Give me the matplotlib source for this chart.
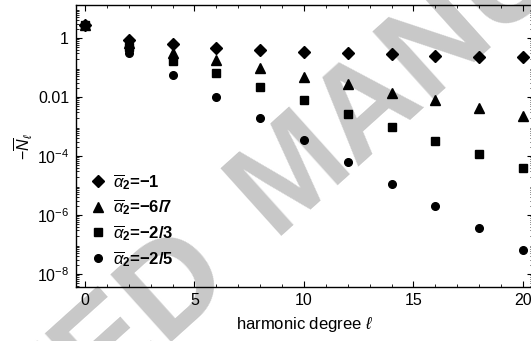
import matplotlib
matplotlib.use("Agg")
import matplotlib.pyplot as plt
from matplotlib.ticker import FixedLocator, LogLocator, NullFormatter, MultipleLocator
import numpy as np

plt.rcParams['font.family'] = ['Liberation Sans', 'DejaVu Sans']
plt.rcParams['mathtext.fontset'] = 'custom'
plt.rcParams['mathtext.rm'] = 'Liberation Sans'
plt.rcParams['mathtext.it'] = 'Liberation Sans:italic'
plt.rcParams['mathtext.bf'] = 'Liberation Sans:bold'

# Data
ell = [0, 2, 4, 6, 8, 10, 12, 14, 16, 18, 20]
n_a1 = [2.75, 0.85, 0.62, 0.47, 0.39, 0.34, 0.30, 0.28, 0.25, 0.22, 0.22]
n_a67 = [2.75, 0.68, 0.32, 0.18, 0.094, 0.049, 0.027, 0.014, 0.0079, 0.0042, 0.0023]
n_a23 = [2.75, 0.51, 0.17, 0.063, 0.022, 0.0079, 0.0027, 9.8e-4, 3.2e-4, 1.2e-4, 4.0e-5]
n_a25 = [2.75, 0.30, 0.056, 0.010, 2.0e-3, 3.5e-4, 6.4e-5, 1.1e-5, 2.0e-6, 3.7e-7, 6.5e-8]
labels = [r'$\overline{\alpha}_\mathbf{2}$=−1', r'$\overline{\alpha}_\mathbf{2}$=−6/7',
          r'$\overline{\alpha}_\mathbf{2}$=−2/3', r'$\overline{\alpha}_\mathbf{2}$=−2/5']
yticks = [1e-8, 1e-6, 1e-4, 1e-2, 1]
yticklabels = [r'$10^{-8}$', r'$10^{-6}$', r'$10^{-4}$', '0.01', '1']

fig = plt.figure(figsize=(5.31, 3.41), dpi=100)
ax = fig.add_axes([76 / 531, 1 - 287 / 341, 457 / 531, 282 / 341])
ax.patch.set_alpha(0)

# watermark behind everything
wm = dict(rotation=42, rotation_mode='anchor', va='baseline', fontsize=95,
          fontweight='bold', color='#c8c8c8', zorder=-5)
fig.text(272 / 531, 1 - 236 / 341, 'MANUSCRIPT', ha='left', **wm)
fig.text(236 / 531, 1 - 281 / 341, 'ACCEPTED', ha='right', **wm)

ax.plot(ell, n_a1, ls='none', marker='D', ms=6.5, c='k', label=labels[0])
ax.plot(ell, n_a67, ls='none', marker='^', ms=7.5, c='k', label=labels[1])
ax.plot(ell, n_a23, ls='none', marker='s', ms=5.5, c='k', label=labels[2])
ax.plot(ell, n_a25, ls='none', marker='o', ms=5.5, c='k', label=labels[3])

ax.set_yscale('log')
ax.set_xlim(-0.41, 20.46)
ax.set_ylim(10 ** -8.44, 10 ** 1.12)

ax.yaxis.set_major_locator(FixedLocator(yticks))
ax.set_yticklabels(yticklabels)
ax.yaxis.set_minor_locator(LogLocator(base=10, subs=np.arange(2, 10), numticks=30))
ax.yaxis.set_minor_formatter(NullFormatter())
ax.xaxis.set_major_locator(MultipleLocator(5))
ax.xaxis.set_minor_locator(MultipleLocator(1))

ax.tick_params(which='both', direction='in', top=True, right=True, labelsize=11.5)
ax.tick_params(which='major', length=4, width=0.8)
ax.tick_params(which='minor', length=2, width=0.6)
ax.tick_params(axis='y', pad=5)
ax.tick_params(axis='x', pad=4)
for s in ax.spines.values():
    s.set_linewidth(1.0)

ax.set_xlabel(r'harmonic degree $\ell$', fontsize=12, labelpad=5)
ax.set_ylabel(r'$-\overline{N}_\ell$', fontsize=11.5, labelpad=1)

ax.legend(loc='upper left', bbox_to_anchor=(0.0, 0.45), frameon=False,
          prop={'weight': 'bold', 'size': 12}, handletextpad=0.3,
          labelspacing=0.35, handlelength=1.2, borderaxespad=0.3)

fig.savefig('out.png', dpi=100)
